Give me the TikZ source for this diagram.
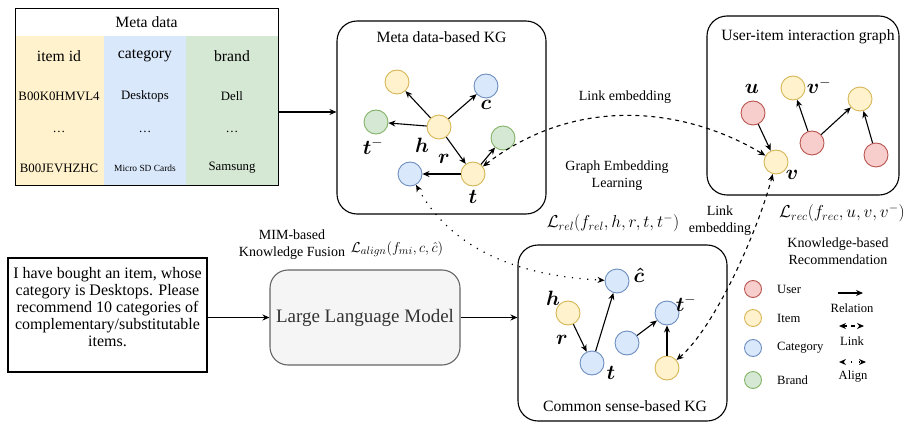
\documentclass[tikz,border=0pt]{standalone}
\usepackage{fontspec}
\setmainfont{Liberation Serif}
\usepackage{amsmath,amssymb}
\usetikzlibrary{arrows.meta}
\definecolor{itemfill}{HTML}{FFF2CC}
\definecolor{itemline}{HTML}{D6B656}
\definecolor{catfill}{HTML}{DAE8FC}
\definecolor{catline}{HTML}{6C8EBF}
\definecolor{brandfill}{HTML}{D5E8D4}
\definecolor{brandline}{HTML}{82B366}
\definecolor{userfill}{HTML}{F8CECC}
\definecolor{userline}{HTML}{B85450}
\definecolor{llmfill}{HTML}{F5F5F5}
\definecolor{llmline}{HTML}{666666}
\definecolor{llmtext}{HTML}{333333}
\tikzset{
  ent/.style={circle, minimum size=24pt, inner sep=0pt, line width=0.9pt},
  itemnd/.style={ent, draw=itemline, fill=itemfill},
  catnd/.style={ent, draw=catline, fill=catfill},
  brandnd/.style={ent, draw=brandline, fill=brandfill},
  usernd/.style={ent, draw=userline, fill=userfill},
  legnd/.style={minimum size=17pt},
  kgbox/.style={draw, rounded corners=20pt, line width=1.1pt, inner sep=0pt},
  relarr/.style={-{Stealth[length=7pt,width=6pt]}, line width=1.1pt},
  linkarr/.style={{Stealth[length=7pt,width=6pt]}-{Stealth[length=7pt,width=6pt]}, line width=1.1pt, dash pattern=on 4pt off 4pt},
  alignarr/.style={{Stealth[length=7pt,width=6pt]}-{Stealth[length=7pt,width=6pt]}, line width=1.2pt, dash pattern=on 1.2pt off 6.5pt},
  hdr/.style={font=\fontsize{15.7}{18}\selectfont, inner sep=1pt},
  cell/.style={font=\fontsize{12.8}{14}\selectfont, inner sep=1pt},
  lbl/.style={font=\fontsize{14}{17}\selectfont, align=center, inner sep=1pt},
  leg/.style={font=\fontsize{12.6}{14}\selectfont, inner sep=1pt},
  var/.style={font=\fontsize{20}{20}\selectfont, inner sep=0pt},
  loss/.style={font=\fontsize{16.8}{18}\selectfont, inner sep=1pt}
}
\begin{document}
\begin{tikzpicture}[x=1pt,y=-1pt]
\useasboundingbox (0,0) rectangle (904,422);
% Meta data table
\fill[itemfill] (15,36) rectangle (104,185);
\fill[catfill] (104,36) rectangle (186,185);
\fill[brandfill] (186,36) rectangle (278,185);
\node[draw, line width=0.9pt, minimum width=263pt, minimum height=177pt, inner sep=0pt] (meta) at (146.5,96.5) {};
\node[hdr] (metatitle) at (146.5,22) {Meta data};
\node[hdr] (hid) at (59,56) {item id};
\node[hdr] (hcat) at (145,56) {category};
\node[hdr] (hbrand) at (232,56) {brand};
\node[cell] (id1) at (59,96) {B00K0HMVL4};
\node[cell] (cat1) at (145,96) {Desktops};
\node[cell] (brand1) at (232,96) {Dell};
\node[cell, anchor=base] (id2) at (59,133) {\dots};
\node[cell, anchor=base] (cat2) at (145,133) {\dots};
\node[cell, anchor=base] (brand2) at (232,133) {\dots};
\node[cell] (id3) at (59,168) {B00JEVHZHC};
\node[cell, font=\fontsize{9.4}{11}\selectfont] (cat3) at (145,168) {Micro SD Cards};
\node[cell] (brand3) at (232,168) {Samsung};

% Meta data-based KG
\node[kgbox, minimum width=209pt, minimum height=193pt] (metakg) at (441.5,117.5) {};
\node[hdr] (metakgt) at (441.5,37) {Meta data-based KG};
\node[itemnd] (mi) at (397,82) {};
\node[catnd] (mc) at (486,86) {};
\node[brandnd] (mtm) at (376,122) {};
\node[itemnd] (mh) at (439,127) {};
\node[brandnd] (mg) at (503,138) {};
\node[itemnd] (mt) at (473,174) {};
\node[catnd] (mb) at (410,174) {};
\node[var] (lc) at (486,105) {$\boldsymbol{c}$};
\node[var] (ltm) at (373,146) {$\boldsymbol{t}^{-}$};
\node[var] (lh) at (422,145) {$\boldsymbol{h}$};
\node[var] (lr) at (444,159) {$\boldsymbol{r}$};
\node[var] (lt) at (473,197) {$\boldsymbol{t}$};
\draw[relarr] (mh) -- (mi);
\draw[relarr] (mh) -- (mc);
\draw[relarr] (mh) -- (mtm);
\draw[relarr] (mh) -- (mt);
\draw[relarr] (mt) -- (mb);
\draw[relarr] (mt) -- (mg);
\draw[relarr] ([yshift=-15.5pt]meta.east) -- ([yshift=-15.5pt]meta.east -| metakg.west);

% User-item interaction graph
\node[kgbox, minimum width=192pt, minimum height=179pt] (uigraph) at (803,105.5) {};
\node[hdr] (uigrapht) at (808,37) {User-item interaction graph};
\node[usernd] (u) at (753,113) {};
\node[itemnd] (v) at (776,162) {};
\node[itemnd] (vm) at (793,88) {};
\node[usernd] (um) at (812,143) {};
\node[itemnd] (vr) at (860,99) {};
\node[usernd] (ur) at (876,155) {};
\node[var] (lu) at (752,89) {$\boldsymbol{u}$};
\node[var] (lv) at (792,175) {$\boldsymbol{v}$};
\node[var] (lvm) at (819,86) {$\boldsymbol{v}^{-}$};
\draw[relarr] (u) -- (v);
\draw[relarr] (um) -- (vm);
\draw[relarr] (um) -- (vr);
\draw[relarr] (ur) -- (vr);

% Prompt and LLM
\node[draw, line width=1.1pt, minimum width=199pt, minimum height=114pt, inner sep=0pt] (prompt) at (107.5,315) {};
\node[font=\fontsize{16}{17}\selectfont, align=center, inner sep=0pt] (prompttxt) at (107.5,307) {I have bought an item, whose\\category is Desktops. Please\\recommend 10 categories of\\complementary/substitutable\\items.};
\node[draw=llmline, fill=llmfill, rounded corners=18pt, line width=1.1pt, minimum width=190pt, minimum height=95pt, text=llmtext, font=\fontsize{19}{22}\selectfont] (llm) at (365,317.5) {Large Language Model};
\draw[relarr] (prompt.east |- llm.west) -- (llm.west);

% Common sense-based KG
\node[kgbox, minimum width=209pt, minimum height=176pt] (cskg) at (622.5,333) {};
\node[hdr] (cskgt) at (625,406) {Common sense-based KG};
\node[catnd] (chat) at (617,281) {};
\node[itemnd] (ch) at (568,313) {};
\node[catnd] (ct) at (592,363) {};
\node[catnd] (cm) at (627,343) {};
\node[catnd] (ctm) at (667,313) {};
\node[itemnd] (cy) at (667,368) {};
\node[var] (lchat) at (639,275) {$\boldsymbol{\hat{c}}$};
\node[var] (lch) at (553,298) {$\boldsymbol{h}$};
\node[var] (lcr) at (562,340) {$\boldsymbol{r}$};
\node[var] (lct) at (611,373) {$\boldsymbol{t}$};
\node[var] (lctm) at (686,303) {$\boldsymbol{t}^{-}$};
\draw[relarr] (ch) -- (ct);
\draw[relarr] (ct) -- (chat);
\draw[relarr] (cm) -- (ctm);
\draw[relarr] (cy) -- (ctm);
\draw[relarr] (llm.east) -- (llm.east -| cskg.west);

% Links and alignment
\draw[linkarr] (mt) .. controls (580,92) and (690,110) .. (v);
\draw[linkarr] (cy) .. controls (712,330) and (755,240) .. (v);
\draw[alignarr] (mb) .. controls (440,228) and (486,274) .. (chat);
\node[lbl] (linktop) at (625,97) {Link embedding};
\node[lbl] (gel) at (617,176) {Graph Embedding\\Learning};
\node[loss] (lrel) at (613,223) {$\mathcal{L}_{rel}(f_{rel},h,r,t,t^{-})$};
\node[lbl] (linkbot) at (720,221) {Link\\embedding};
\node[lbl] (mim) at (292,245) {MIM-based\\Knowledge Fusion};
\node[loss, font=\fontsize{15.4}{17}\selectfont] (lalign) at (397,249) {$\mathcal{L}_{align}(f_{mi},c,\hat{c})$};
\node[loss] (lrec) at (842,213) {$\mathcal{L}_{rec}(f_{rec},u,v,v^{-})$};
\node[lbl] (kbr) at (838,251) {Knowledge-based\\Recommendation};

% Legend
\node[usernd, legnd] (leguser) at (753,289) {};
\node[itemnd, legnd] (legitem) at (753,318) {};
\node[catnd, legnd] (legcat) at (753,348) {};
\node[brandnd, legnd] (legbrand) at (753,380) {};
\node[leg, anchor=west] (tuser) at (776,289) {User};
\node[leg, anchor=west] (titem) at (776,318) {Item};
\node[leg, anchor=west] (tcat) at (776,348) {Category};
\node[leg, anchor=west] (tbrand) at (776,380) {Brand};
\coordinate (relA) at (838,293);
\coordinate (relB) at (863,293);
\coordinate (linkA) at (839,326);
\coordinate (linkB) at (864,326);
\coordinate (alA) at (839,362);
\coordinate (alB) at (866,362);
\draw[relarr] (relA) -- (relB);
\draw[linkarr] (linkA) -- (linkB);
\draw[alignarr] (alA) -- (alB);
\node[leg] (trel) at (852,308) {Relation};
\node[leg] (tlink) at (852,341) {Link};
\node[leg] (talign) at (853,376) {Align};
\end{tikzpicture}
\end{document}
